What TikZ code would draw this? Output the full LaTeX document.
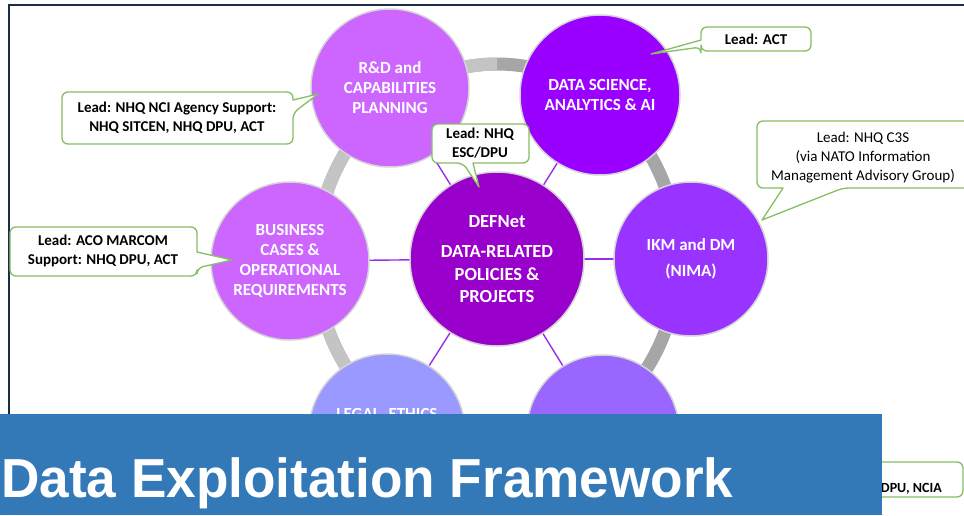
\documentclass[tikz,border=0pt]{standalone}
\usepackage{fontspec}
\setmainfont{Carlito}
\newfontfamily\titlefont{Liberation Sans}
\usetikzlibrary{backgrounds}
\definecolor{rdcol}{HTML}{CC66FF}
\definecolor{dscol}{HTML}{9900FF}
\definecolor{ikmcol}{HTML}{9933FF}
\definecolor{corecol}{HTML}{9900CC}
\definecolor{bizcol}{HTML}{CC66FF}
\definecolor{legalcol}{HTML}{9999FF}
\definecolor{brcol}{HTML}{9966FF}
\definecolor{ringlight}{HTML}{C4C4C4}
\definecolor{ringdark}{HTML}{A6A6A6}
\definecolor{bubline}{HTML}{D4D4D4}
\definecolor{spokecol}{HTML}{9A2EE6}
\definecolor{callgreen}{HTML}{86BE62}
\definecolor{bannercol}{HTML}{3479B7}
\definecolor{framecol}{HTML}{1B2C48}
\begin{document}
\begin{tikzpicture}[x=1pt,y=-1pt,
  bub/.style={circle, draw=bubline, line width=1.5pt, text=white, align=center, inner sep=0pt,
    font=\bfseries\fontsize{17}{20}\selectfont},
  spoke/.style={draw=spokecol, line width=1.4pt},
  callout/.style={draw=callgreen, fill=white, line width=1.3pt, line join=round},
  calltext/.style={align=center, inner sep=0pt, text=black, font=\bfseries\fontsize{15}{19}\selectfont},
  ring/.style={line width=13pt}]
\useasboundingbox (0,0) rectangle (964,515);
% frame
\draw[framecol, line width=2pt] (8.5,515) -- (8.5,5) -- (964,5);

% circles
\node[bub, fill=corecol, minimum size=174pt, font=\bfseries\fontsize{18.5}{22.5}\selectfont] (core) at (497,259)
  {DEFNet\\[8pt]DATA-RELATED\\POLICIES \&\\PROJECTS};
\node[bub, fill=rdcol, minimum size=158pt] (rd) at (390,88) {R\&D and\\CAPABILITIES\\PLANNING};
\node[bub, fill=dscol, minimum size=160pt] (ds) at (600,95) {DATA SCIENCE,\\ANALYTICS \& AI};
\node[bub, fill=ikmcol, minimum size=154pt] (ikm) at (691,259) {IKM and DM\\[6pt](NIMA)};
\node[bub, fill=bizcol, minimum size=158pt] (biz) at (290,261) {BUSINESS\\CASES \&\\OPERATIONAL\\REQUIREMENTS};
\node[bub, fill=legalcol, minimum size=156pt] (legal) at (387,432) {};
\node[bub, fill=brcol, minimum size=152pt] (br) at (603,431) {};
\node[text=white, font=\bfseries\fontsize{17}{20}\selectfont, anchor=base, inner sep=0pt] (legaltxt) at (387,419) {LEGAL, ETHICS};

% ring and spokes behind
\begin{pgfonlayer}{background}
  \draw[ring, ringdark] (core.center) ellipse [x radius=181, y radius=195];
  \begin{scope}
    \clip (0,0) rectangle (497,515);
    \draw[ring, ringlight] (core.center) ellipse [x radius=181, y radius=195];
  \end{scope}
  \foreach \n in {rd,ds,ikm,biz,legal,br}
    \draw[spoke] (core.center) -- (\n.center);
\end{pgfonlayer}

% callouts
\draw[callout] (318,94) -- (293,100) [rounded corners=6] -- (293,92) -- (62,92) -- (62,144) -- (293,144) -- (293,113) [sharp corners] -- cycle;
\node[calltext] (c1) at (177,118) {Lead: NHQ NCI Agency Support:\\NHQ SITCEN, NHQ DPU, ACT};

\draw[callout] (651,54) -- (701,40) [rounded corners=6] -- (701,27) -- (811,27) -- (811,51) -- (701,51) -- (701,47) [sharp corners] -- cycle;
\node[calltext] (c2) at (756,39) {Lead: ACT};

\draw[callout] (762,220) -- (783,188) [rounded corners=6] -- (757,188) -- (757,121) -- (970,121) -- (970,188) -- (843,188) [sharp corners] -- cycle;
\node[calltext, font=\fontsize{15}{19}\selectfont] (c3) at (863,158) {Lead: NHQ C3S\\(via NATO Information\\Management Advisory Group)};

\draw[callout] (479,187) -- (473,163) [rounded corners=6] -- (529,163) -- (529,124) -- (432,124) -- (432,163) -- (463,163) [sharp corners] -- cycle;
\node[calltext] (c4) at (480,143) {Lead: NHQ\\ESC/DPU};

\draw[callout] (232,260) -- (197,252) [rounded corners=6] -- (197,227) -- (10,227) -- (10,276) -- (197,276) -- (197,268) [sharp corners] -- cycle;
\node[calltext] (c5) at (103,251) {Lead: ACO MARCOM\\Support: NHQ DPU, ACT};

\draw[callout, rounded corners=6] (820,462) rectangle (963,497);
\node[calltext, anchor=base east, font=\bfseries\fontsize{14}{17}\selectfont] (c6) at (942,492) {DPU, NCIA};

% banner
\fill[bannercol] (0,414) rectangle (882,515);
\node[anchor=base west, inner sep=0pt, text=white] (title) at (1,497)
  {\scalebox{0.966}[1]{\titlefont\bfseries\fontsize{55}{55}\selectfont Data Exploitation Framework}};
\end{tikzpicture}
\end{document}
